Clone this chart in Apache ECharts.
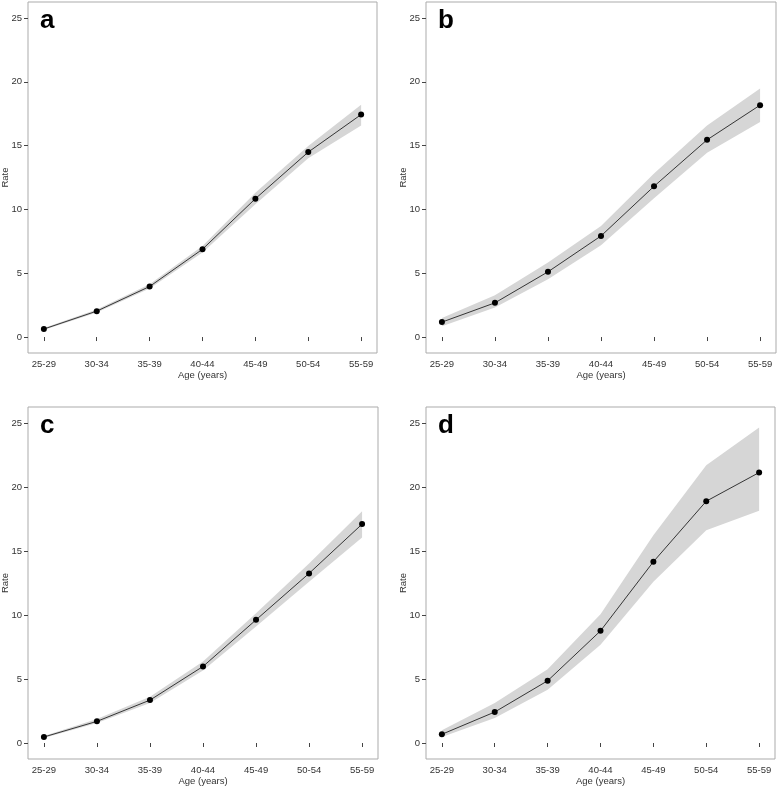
<!DOCTYPE html>
<html>
<head>
<meta charset="utf-8">
<script src="https://cdn.jsdelivr.net/npm/echarts@6/dist/echarts.min.js"></script>
<style>
html,body{margin:0;padding:0;background:#fff;}
#main{width:778px;height:788px;}
</style>
</head>
<body>
<div id="main"></div>
<script>
var ages = ['25-29', '30-34', '35-39', '40-44', '45-49', '50-54', '55-59'];
var yTicks = [0, 5, 10, 15, 20, 25];
var panelLetters = ['a', 'b', 'c', 'd'];

var rateA = [0.63, 2.03, 3.96, 6.88, 10.84, 14.49, 17.43];
var lowA  = [0.55, 1.93, 3.80, 6.62, 10.40, 14.00, 16.58];
var highA = [0.71, 2.16, 4.14, 7.14, 11.31, 14.96, 18.19];

var rateB = [1.17, 2.68, 5.11, 7.92, 11.81, 15.45, 18.17];
var lowB  = [0.85, 2.32, 4.53, 7.19, 10.87, 14.44, 16.84];
var highB = [1.50, 3.28, 5.84, 8.70, 12.82, 16.58, 19.47];

var rateC = [0.47, 1.69, 3.35, 5.98, 9.62, 13.25, 17.10];
var lowC  = [0.40, 1.56, 3.12, 5.67, 9.10, 12.60, 16.06];
var highC = [0.55, 1.87, 3.61, 6.37, 10.13, 14.03, 18.11];

var rateD = [0.68, 2.42, 4.86, 8.76, 14.16, 18.89, 21.13];
var lowD  = [0.47, 1.95, 4.16, 7.67, 12.60, 16.63, 18.14];
var highD = [0.99, 3.12, 5.77, 10.06, 16.24, 21.70, 24.64];

var panels = [
  {rate: rateA, low: lowA, high: highA},
  {rate: rateB, low: lowB, high: highB},
  {rate: rateC, low: lowC, high: highC},
  {rate: rateD, low: lowD, high: highD}
];

var grids = [
  {left: 28, top: 2, width: 349, height: 351},
  {left: 426, top: 2, width: 350, height: 351},
  {left: 28, top: 407, width: 350, height: 352},
  {left: 426, top: 407, width: 349, height: 352}
];

var FONT = 'Liberation Sans, Arial, sans-serif';
var FS = 9.5;
var xPos = ages.map(function (a, i) { return i + 1; });

var option = {
  backgroundColor: '#fff',
  animation: false,
  grid: grids.map(function (g) {
    return Object.assign({
      show: true, borderColor: '#ababab', borderWidth: 1, backgroundColor: '#fff',
      containLabel: false, outerBoundsMode: 'none'
    }, g);
  }),
  xAxis: grids.map(function (g, i) {
    return {
      type: 'value', gridIndex: i, min: 0.7, max: 7.3,
      name: 'Age (years)', nameLocation: 'middle', nameGap: 17, nameMoveOverlap: false,
      nameTextStyle: {fontFamily: FONT, fontSize: FS, color: '#333'},
      axisLine: {show: false},
      axisTick: {show: true, length: 4, customValues: xPos, lineStyle: {color: '#444'}},
      axisLabel: {
        customValues: xPos, margin: 6, fontFamily: FONT, fontSize: FS, color: '#333',
        formatter: function (v) { return ages[Math.round(v) - 1]; }
      },
      splitLine: {show: false}
    };
  }),
  yAxis: grids.map(function (g, i) {
    return {
      type: 'value', gridIndex: i, min: -1.25, max: 26.25,
      name: 'Rate', nameLocation: 'middle', nameGap: 18, nameMoveOverlap: false,
      nameTextStyle: {fontFamily: FONT, fontSize: FS, color: '#333'},
      axisLine: {show: false},
      axisTick: {show: true, length: 4, customValues: yTicks, lineStyle: {color: '#444'}},
      axisLabel: {customValues: yTicks, margin: 6, fontFamily: FONT, fontSize: FS, color: '#333'},
      splitLine: {show: false}
    };
  }),
  graphic: grids.map(function (g, i) {
    return {
      type: 'text', left: g.left + 12, top: g.top + 6,
      style: {text: panelLetters[i], font: 'bold 26px ' + FONT, fill: '#000'}
    };
  }),
  series: []
};

function makeBand(p) {
  return function (params, api) {
    if (params.dataIndex !== 0) return null;
    var pts = [];
    var k;
    for (k = 0; k < xPos.length; k++) pts.push(api.coord([xPos[k], p.high[k]]));
    for (k = xPos.length - 1; k >= 0; k--) pts.push(api.coord([xPos[k], p.low[k]]));
    return {
      type: 'polygon',
      shape: {points: pts},
      style: {fill: '#d6d6d6', stroke: null}
    };
  };
}

panels.forEach(function (p, i) {
  option.series.push({
    type: 'custom', xAxisIndex: i, yAxisIndex: i,
    data: xPos.map(function (x, k) { return [x, p.low[k], p.high[k]]; }),
    encode: {x: 0, y: [1, 2]},
    renderItem: makeBand(p), silent: true, z: 1
  });
  option.series.push({
    type: 'line', xAxisIndex: i, yAxisIndex: i,
    data: xPos.map(function (x, k) { return [x, p.rate[k]]; }),
    symbol: 'circle', symbolSize: 6,
    itemStyle: {color: '#000'},
    lineStyle: {color: '#222', width: 0.9}, z: 3
  });
});

var chart = echarts.init(document.getElementById('main'), null, {renderer: 'canvas'});
chart.setOption(option);
</script>
</body>
</html>
